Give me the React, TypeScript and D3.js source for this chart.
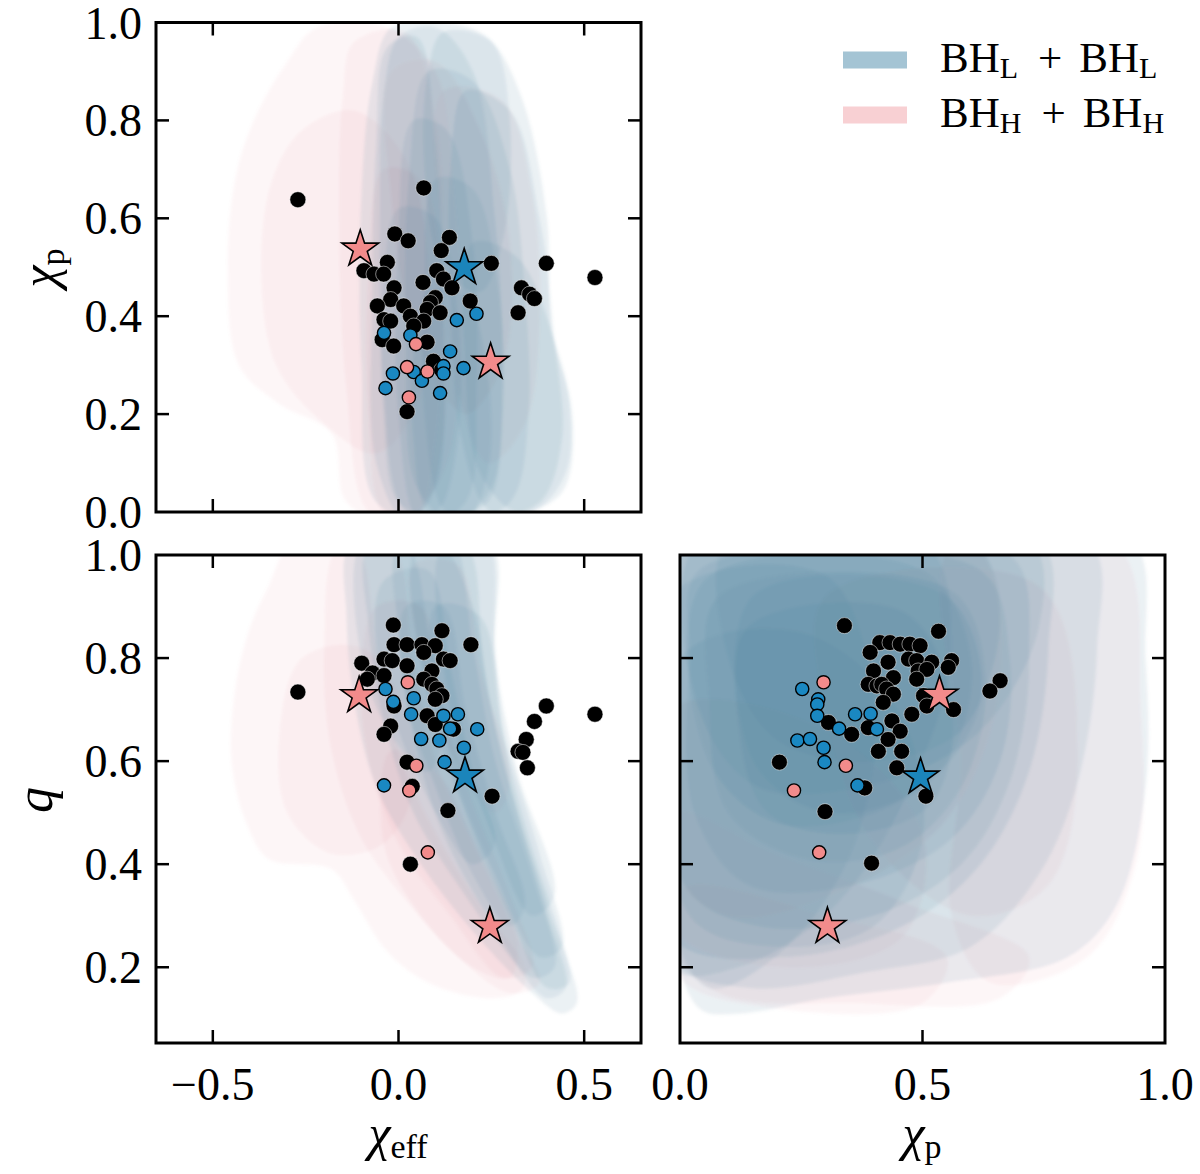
import * as d3 from "d3"

type Pt = [number, number]

// ---------- axis ticks ----------
const chiEffTicks = [-0.5, 0.0, 0.5]
const chiPTicks = [0.0, 0.2, 0.4, 0.6, 0.8, 1.0]
const qTicks = [0.2, 0.4, 0.6, 0.8, 1.0]
const chiPBottomTicks = [0.0, 0.5, 1.0]

// ---------- events: chi_eff vs chi_p ----------
const blackEffP: Pt[] = [
  [-0.271, 0.638], [0.068, 0.662], [-0.01, 0.568], [0.026, 0.554], [0.137, 0.561], [0.115, 0.534],
  [0.25, 0.508], [0.398, 0.508], [0.529, 0.479], [-0.03, 0.51], [-0.093, 0.493], [-0.066, 0.486],
  [-0.04, 0.486], [0.103, 0.493], [0.066, 0.469], [0.121, 0.476], [0.144, 0.458], [-0.012, 0.458],
  [0.331, 0.458], [0.353, 0.445], [0.366, 0.436], [0.322, 0.407], [-0.021, 0.434], [0.099, 0.438],
  [0.086, 0.428], [0.193, 0.431], [-0.057, 0.421], [0.014, 0.421], [0.077, 0.414], [0.112, 0.407],
  [0.032, 0.4], [0.068, 0.39], [0.041, 0.38], [-0.039, 0.393], [-0.021, 0.39], [-0.044, 0.352],
  [-0.013, 0.339], [0.077, 0.347], [0.094, 0.308], [0.116, 0.29], [0.023, 0.205],
]
const blueEffP: Pt[] = [
  [-0.039, 0.366], [0.032, 0.361], [0.157, 0.392], [0.21, 0.405], [0.139, 0.328], [0.121, 0.298],
  [0.121, 0.283], [0.175, 0.294], [-0.015, 0.283], [0.041, 0.286], [0.063, 0.268], [-0.035, 0.253],
  [0.112, 0.243],
]
const pinkEffP: Pt[] = [[0.047, 0.343], [0.023, 0.296], [0.078, 0.287], [0.028, 0.234]]
const starsEffP: [number, number, string][] = [[-0.103, 0.537, "H"], [0.177, 0.499, "L"], [0.248, 0.306, "H"]]

// ---------- events: chi_eff vs q ----------
const blackEffQ: Pt[] = [
  [-0.014, 0.864], [0.117, 0.853], [0.195, 0.826], [-0.012, 0.826], [0.023, 0.826], [0.063, 0.826],
  [0.099, 0.824], [0.068, 0.811], [-0.039, 0.798], [-0.017, 0.795], [-0.099, 0.79], [0.023, 0.785],
  [0.121, 0.798], [0.139, 0.795], [0.09, 0.775], [-0.07, 0.771], [-0.039, 0.766], [0.068, 0.759],
  [0.09, 0.749], [0.103, 0.74], [0.117, 0.727], [0.099, 0.72], [-0.084, 0.759], [-0.271, 0.734],
  [-0.012, 0.707], [-0.021, 0.668], [-0.039, 0.652], [0.077, 0.688], [0.099, 0.671], [0.148, 0.662],
  [0.398, 0.707], [0.529, 0.691], [0.366, 0.677], [0.344, 0.642], [0.322, 0.619], [0.335, 0.617],
  [0.347, 0.587], [0.023, 0.598], [0.037, 0.551], [0.252, 0.532], [0.133, 0.504], [0.032, 0.4],
]
const blueEffQ: Pt[] = [
  [-0.035, 0.74], [-0.014, 0.715], [0.041, 0.722], [0.034, 0.691], [0.121, 0.688], [0.16, 0.691],
  [0.139, 0.663], [0.212, 0.662], [0.061, 0.643], [0.11, 0.64], [0.176, 0.626], [0.124, 0.598],
  [-0.039, 0.553],
]
const pinkEffQ: Pt[] = [[0.025, 0.753], [0.048, 0.591], [0.029, 0.543], [0.079, 0.423]]
const starsEffQ: [number, number, string][] = [[-0.106, 0.727, "H"], [0.179, 0.571, "L"], [0.246, 0.279, "H"]]

// ---------- events: chi_p vs q ----------
const blackPQ: Pt[] = [
  [0.339, 0.863], [0.533, 0.852], [0.412, 0.83], [0.433, 0.83], [0.454, 0.827], [0.474, 0.827],
  [0.495, 0.824], [0.392, 0.811], [0.429, 0.792], [0.471, 0.798], [0.488, 0.795], [0.519, 0.792],
  [0.56, 0.795], [0.553, 0.782], [0.399, 0.775], [0.491, 0.775], [0.509, 0.778], [0.44, 0.762],
  [0.488, 0.759], [0.388, 0.749], [0.406, 0.746], [0.416, 0.749], [0.426, 0.74], [0.44, 0.73],
  [0.502, 0.727], [0.66, 0.756], [0.639, 0.736], [0.564, 0.7], [0.509, 0.707], [0.419, 0.714],
  [0.478, 0.691], [0.306, 0.675], [0.354, 0.652], [0.388, 0.665], [0.437, 0.678], [0.454, 0.658],
  [0.429, 0.642], [0.409, 0.619], [0.457, 0.619], [0.447, 0.587], [0.205, 0.598], [0.381, 0.548],
  [0.507, 0.532], [0.299, 0.502], [0.395, 0.402],
]
const bluePQ: Pt[] = [
  [0.252, 0.74], [0.285, 0.72], [0.283, 0.71], [0.283, 0.688], [0.361, 0.691], [0.393, 0.692],
  [0.328, 0.663], [0.406, 0.662], [0.242, 0.64], [0.268, 0.643], [0.296, 0.626], [0.298, 0.598],
  [0.366, 0.553],
]
const pinkPQ: Pt[] = [[0.296, 0.753], [0.342, 0.591], [0.235, 0.543], [0.287, 0.423]]
const starsPQ: [number, number, string][] = [[0.535, 0.728, "H"], [0.496, 0.569, "L"], [0.304, 0.279, "H"]]

// ---------- credible-region outlines (chi_eff, chi_p) ----------
const blueRegionsEffP: Pt[][] = [
  [[-0.02, 0.99], [0.12, 1.0], [0.24, 0.97], [0.33, 0.85], [0.4, 0.6], [0.41, 0.38], [0.46, 0.22], [0.45, 0.08], [0.36, 0.0], [0.1, -0.02], [-0.06, 0.02], [-0.1, 0.3], [-0.1, 0.65], [-0.07, 0.88]],
  [[0.0, 0.97], [0.1, 0.99], [0.2, 0.9], [0.26, 0.6], [0.28, 0.3], [0.25, 0.05], [0.15, -0.02], [0.02, 0.0], [-0.04, 0.25], [-0.05, 0.6], [-0.04, 0.85]],
  [[0.08, 0.9], [0.2, 0.88], [0.3, 0.7], [0.34, 0.45], [0.35, 0.2], [0.3, 0.02], [0.15, -0.02], [0.05, 0.05], [0.02, 0.35], [0.03, 0.7]],
  [[0.04, 0.8], [0.13, 0.78], [0.2, 0.55], [0.21, 0.25], [0.18, 0.02], [0.06, -0.02], [0.0, 0.2], [0.0, 0.55]],
  [[0.18, 0.86], [0.3, 0.82], [0.38, 0.6], [0.42, 0.35], [0.44, 0.15], [0.38, 0.02], [0.25, 0.0], [0.17, 0.15], [0.14, 0.45], [0.14, 0.7]],
  [[-0.03, 0.95], [0.05, 0.97], [0.1, 0.75], [0.12, 0.4], [0.1, 0.05], [0.02, -0.02], [-0.06, 0.1], [-0.07, 0.45], [-0.06, 0.75]],
  [[0.1, 0.68], [0.2, 0.66], [0.27, 0.45], [0.28, 0.2], [0.24, 0.02], [0.13, 0.0], [0.07, 0.2], [0.07, 0.45]],
  [[0.2, 0.55], [0.32, 0.52], [0.42, 0.35], [0.47, 0.18], [0.44, 0.04], [0.32, 0.0], [0.22, 0.08], [0.18, 0.3]],
  [[0.12, 0.98], [0.25, 0.96], [0.3, 0.8], [0.28, 0.55], [0.22, 0.45], [0.12, 0.5], [0.07, 0.7], [0.08, 0.9]],
  [[0.0, 0.62], [0.1, 0.6], [0.16, 0.4], [0.16, 0.15], [0.1, 0.0], [0.0, 0.02], [-0.04, 0.2], [-0.04, 0.45]],
  [[0.08, 0.45], [0.18, 0.44], [0.24, 0.28], [0.24, 0.08], [0.18, -0.02], [0.08, 0.0], [0.04, 0.15], [0.04, 0.32]],
]
const redRegionsEffP: Pt[][] = [
  [[-0.22, 0.99], [-0.03, 0.99], [0.1, 0.9], [0.15, 0.65], [0.17, 0.35], [0.12, 0.08], [0.0, -0.02], [-0.14, 0.02], [-0.18, 0.16], [-0.32, 0.22], [-0.43, 0.3], [-0.46, 0.5], [-0.44, 0.68], [-0.39, 0.8], [-0.3, 0.92]],
  [[-0.12, 0.96], [0.02, 0.98], [0.1, 0.8], [0.12, 0.5], [0.1, 0.15], [0.04, -0.02], [-0.08, 0.0], [-0.14, 0.25], [-0.16, 0.6], [-0.15, 0.85]],
  [[-0.26, 0.78], [-0.12, 0.82], [0.02, 0.72], [0.08, 0.5], [0.05, 0.22], [-0.06, 0.12], [-0.2, 0.18], [-0.33, 0.3], [-0.37, 0.5], [-0.34, 0.68]],
  [[0.12, 0.86], [0.28, 0.84], [0.36, 0.65], [0.38, 0.4], [0.34, 0.18], [0.24, 0.1], [0.16, 0.25], [0.12, 0.55]],
  [[-0.04, 0.7], [0.06, 0.68], [0.12, 0.45], [0.12, 0.15], [0.06, 0.0], [-0.04, 0.0], [-0.08, 0.2], [-0.08, 0.5]],
  [[-0.02, 0.9], [0.1, 0.92], [0.22, 0.78], [0.3, 0.55], [0.28, 0.3], [0.18, 0.2], [0.05, 0.35], [-0.02, 0.65]],
]

// ---------- credible-region outlines (chi_eff, q) ----------
const blueRegionsEffQ: Pt[][] = [
  [[-0.13, 1.02], [0.05, 1.03], [0.25, 1.02], [0.26, 0.82], [0.29, 0.62], [0.36, 0.43], [0.45, 0.23], [0.48, 0.13], [0.44, 0.11], [0.36, 0.15], [0.2, 0.27], [0.06, 0.4], [-0.06, 0.55], [-0.12, 0.72], [-0.14, 0.88]],
  [[-0.08, 1.02], [0.1, 1.03], [0.2, 0.9], [0.25, 0.7], [0.32, 0.5], [0.4, 0.3], [0.45, 0.16], [0.4, 0.14], [0.3, 0.22], [0.16, 0.36], [0.04, 0.5], [-0.04, 0.68], [-0.08, 0.86]],
  [[0.0, 1.02], [0.14, 1.03], [0.2, 0.82], [0.26, 0.6], [0.36, 0.38], [0.42, 0.2], [0.36, 0.18], [0.24, 0.3], [0.12, 0.46], [0.04, 0.65], [0.0, 0.85]],
  [[0.05, 1.02], [0.18, 1.02], [0.23, 0.78], [0.3, 0.55], [0.4, 0.32], [0.46, 0.17], [0.4, 0.16], [0.3, 0.3], [0.18, 0.5], [0.08, 0.72]],
  [[-0.04, 0.95], [0.08, 0.97], [0.14, 0.78], [0.2, 0.58], [0.26, 0.44], [0.2, 0.4], [0.1, 0.5], [0.0, 0.66], [-0.06, 0.82]],
  [[0.1, 0.9], [0.22, 0.88], [0.28, 0.66], [0.38, 0.42], [0.44, 0.24], [0.38, 0.22], [0.26, 0.38], [0.14, 0.6]],
  [[-0.1, 1.02], [0.02, 1.02], [0.08, 0.85], [0.12, 0.65], [0.08, 0.58], [-0.02, 0.65], [-0.1, 0.8]],
  [[0.02, 0.9], [0.12, 0.9], [0.18, 0.7], [0.26, 0.5], [0.34, 0.32], [0.3, 0.28], [0.2, 0.38], [0.1, 0.55], [0.02, 0.72]],
  [[0.12, 1.02], [0.24, 1.02], [0.26, 0.8], [0.32, 0.58], [0.42, 0.34], [0.36, 0.3], [0.24, 0.48], [0.14, 0.7]],
]
const redRegionsEffQ: Pt[][] = [
  [[-0.29, 1.02], [-0.12, 1.02], [-0.06, 0.82], [0.0, 0.62], [0.1, 0.46], [0.22, 0.32], [0.34, 0.2], [0.33, 0.155], [0.24, 0.14], [0.08, 0.17], [-0.03, 0.23], [-0.12, 0.33], [-0.18, 0.39], [-0.35, 0.41], [-0.41, 0.48], [-0.45, 0.6], [-0.44, 0.74], [-0.4, 0.86], [-0.35, 0.94]],
  [[-0.16, 1.02], [-0.02, 1.02], [0.04, 0.8], [0.1, 0.6], [0.2, 0.44], [0.32, 0.26], [0.38, 0.17], [0.3, 0.15], [0.16, 0.22], [0.02, 0.33], [-0.1, 0.45], [-0.18, 0.62], [-0.2, 0.82]],
  [[-0.06, 0.9], [0.06, 0.9], [0.12, 0.7], [0.2, 0.52], [0.3, 0.34], [0.36, 0.2], [0.28, 0.18], [0.14, 0.3], [0.0, 0.44], [-0.08, 0.6], [-0.1, 0.76]],
  [[-0.26, 0.8], [-0.1, 0.82], [0.02, 0.7], [0.04, 0.54], [-0.04, 0.44], [-0.18, 0.42], [-0.3, 0.5], [-0.32, 0.66]],
  [[-0.02, 0.62], [0.1, 0.58], [0.22, 0.42], [0.32, 0.26], [0.3, 0.18], [0.2, 0.2], [0.06, 0.3], [-0.04, 0.44]],
  [[0.04, 0.98], [0.16, 0.98], [0.22, 0.78], [0.3, 0.56], [0.26, 0.5], [0.14, 0.62], [0.06, 0.8]],
]

// ---------- credible-region outlines (chi_p, q) ----------
const blueRegionsPQ: Pt[][] = [
  [[-0.02, 1.03], [0.5, 1.03], [0.93, 1.03], [0.96, 0.8], [0.96, 0.55], [0.9, 0.32], [0.8, 0.22], [0.55, 0.17], [0.3, 0.14], [0.12, 0.11], [0.04, 0.12], [-0.02, 0.3]],
  [[-0.02, 1.03], [0.84, 1.03], [0.86, 0.82], [0.82, 0.56], [0.74, 0.38], [0.6, 0.24], [0.38, 0.19], [0.14, 0.16], [-0.02, 0.22]],
  [[-0.02, 1.03], [0.74, 1.03], [0.76, 0.82], [0.72, 0.58], [0.62, 0.4], [0.46, 0.28], [0.22, 0.22], [-0.02, 0.26]],
  [[0.0, 1.0], [0.68, 1.0], [0.72, 0.8], [0.68, 0.56], [0.58, 0.4], [0.4, 0.3], [0.16, 0.28], [0.01, 0.36]],
  [[0.04, 0.97], [0.62, 0.97], [0.68, 0.8], [0.66, 0.6], [0.56, 0.45], [0.36, 0.36], [0.14, 0.36], [0.03, 0.5], [0.02, 0.8]],
  [[0.08, 0.92], [0.56, 0.93], [0.63, 0.76], [0.58, 0.55], [0.45, 0.43], [0.26, 0.41], [0.1, 0.5], [0.06, 0.72]],
  [[-0.02, 1.03], [0.5, 1.03], [0.56, 0.82], [0.48, 0.56], [0.32, 0.32], [0.12, 0.2], [-0.02, 0.2]],
  [[0.14, 0.86], [0.46, 0.89], [0.56, 0.72], [0.52, 0.52], [0.36, 0.46], [0.18, 0.5], [0.12, 0.68]],
  [[-0.02, 0.92], [0.3, 0.96], [0.4, 0.72], [0.36, 0.44], [0.22, 0.24], [0.06, 0.16], [-0.02, 0.3]],
  [[0.04, 1.03], [0.72, 1.03], [0.74, 0.86], [0.62, 0.66], [0.42, 0.56], [0.16, 0.55], [0.04, 0.7]],
  [[0.0, 0.8], [0.25, 0.85], [0.45, 0.7], [0.5, 0.45], [0.4, 0.28], [0.2, 0.24], [0.02, 0.3]],
  [[0.1, 1.03], [0.6, 1.03], [0.66, 0.88], [0.58, 0.66], [0.4, 0.6], [0.2, 0.64], [0.1, 0.8]],
  [[0.05, 0.95], [0.5, 0.97], [0.6, 0.8], [0.55, 0.6], [0.4, 0.5], [0.2, 0.48], [0.06, 0.6]],
  [[0.15, 0.92], [0.55, 0.92], [0.62, 0.72], [0.5, 0.55], [0.3, 0.5], [0.15, 0.6]],
]
const redRegionsPQ: Pt[][] = [
  [[0.56, 1.02], [0.9, 1.02], [0.95, 0.7], [0.94, 0.4], [0.84, 0.22], [0.64, 0.17], [0.56, 0.3], [0.58, 0.6]],
  [[-0.02, 0.5], [0.2, 0.42], [0.48, 0.32], [0.72, 0.22], [0.66, 0.14], [0.36, 0.13], [0.08, 0.15], [-0.02, 0.25]],
  [[-0.02, 1.03], [0.6, 1.03], [0.66, 0.76], [0.56, 0.5], [0.36, 0.36], [0.1, 0.3], [-0.02, 0.4]],
  [[0.3, 0.92], [0.74, 0.94], [0.82, 0.62], [0.76, 0.36], [0.6, 0.3], [0.4, 0.44], [0.3, 0.7]],
  [[-0.02, 0.7], [0.3, 0.66], [0.5, 0.46], [0.46, 0.26], [0.22, 0.2], [-0.02, 0.28]],
  [[0.0, 0.35], [0.3, 0.3], [0.55, 0.22], [0.5, 0.13], [0.2, 0.12], [0.0, 0.18]],
]

// ---------- style ----------
const FONT = "'Liberation Serif', 'DejaVu Serif', serif"
const BLUE_FILL = "#4a7d9b"
const RED_FILL = "#e58a90"
const BLUE_DOT = "#1a88c2"
const PINK_DOT = "#f28b8b"
const BLUE_STAR = "#1b85bb"
const TICK = 13
const fmt = d3.format(".1f")

const xEff = d3.scaleLinear().domain([-0.653, 0.653]).range([156, 641])
const yChiP = d3.scaleLinear().domain([0, 1]).range([512, 22.5])
const yQ = d3.scaleLinear().domain([0.053, 1]).range([1043, 555])
const xChiP = d3.scaleLinear().domain([0, 1]).range([680, 1165])

const starPath = d3.symbol(d3.symbolStar, 420)() as string

interface PanelProps {
  id: string
  x: d3.ScaleLinear<number, number>
  y: d3.ScaleLinear<number, number>
  xTicks: number[]
  yTicks: number[]
  blue: Pt[][]
  red: Pt[][]
  black: Pt[]
  blueDots: Pt[]
  pinkDots: Pt[]
  stars: [number, number, string][]
}

function Panel({ id, x, y, xTicks, yTicks, blue, red, black, blueDots, pinkDots, stars }: PanelProps) {
  const [x0, x1] = x.range()
  const [y1, y0] = y.range()
  const line = d3
    .line<Pt>()
    .x((d) => x(d[0]))
    .y((d) => y(d[1]))
    .curve(d3.curveCatmullRomClosed.alpha(0.5))

  return (
    <g>
      <defs>
        <clipPath id={id}>
          <rect x={x0} y={y0} width={x1 - x0} height={y1 - y0} />
        </clipPath>
      </defs>
      <g clipPath={`url(#${id})`}>
        <g filter="url(#soft)">
          {red.map((r, i) => (
            <path key={"r" + i} d={line(r) as string} fill={RED_FILL} fillOpacity={0.075} />
          ))}
          {blue.map((b, i) => (
            <path key={"b" + i} d={line(b) as string} fill={BLUE_FILL} fillOpacity={0.11} />
          ))}
        </g>
      </g>
      {black.map((d, i) => (
        <circle key={"k" + i} cx={x(d[0])} cy={y(d[1])} r={8} fill="#000" stroke="#fff" strokeWidth={0.5} />
      ))}
      {blueDots.map((d, i) => (
        <circle key={"bd" + i} cx={x(d[0])} cy={y(d[1])} r={6.6} fill={BLUE_DOT} stroke="#000" strokeWidth={1.4} />
      ))}
      {pinkDots.map((d, i) => (
        <circle key={"pd" + i} cx={x(d[0])} cy={y(d[1])} r={6.6} fill={PINK_DOT} stroke="#000" strokeWidth={1.4} />
      ))}
      {stars.map((d, i) => (
        <path
          key={"s" + i}
          d={starPath}
          transform={`translate(${x(d[0])},${y(d[1])})`}
          fill={d[2] === "L" ? BLUE_STAR : PINK_DOT}
          stroke="#000"
          strokeWidth={1.6}
        />
      ))}
      {/* inward ticks on all four sides */}
      {xTicks.map((t) => (
        <g key={"xt" + t} stroke="#000" strokeWidth={2.5}>
          <line x1={x(t)} x2={x(t)} y1={y1} y2={y1 - TICK} />
          <line x1={x(t)} x2={x(t)} y1={y0} y2={y0 + TICK} />
        </g>
      ))}
      {yTicks.map((t) => (
        <g key={"yt" + t} stroke="#000" strokeWidth={2.5}>
          <line x1={x0} x2={x0 + TICK} y1={y(t)} y2={y(t)} />
          <line x1={x1} x2={x1 - TICK} y1={y(t)} y2={y(t)} />
        </g>
      ))}
      <rect x={x0} y={y0} width={x1 - x0} height={y1 - y0} fill="none" stroke="#000" strokeWidth={3} />
    </g>
  )
}

export default function App() {
  return (
    <svg
      width={1200}
      height={1174}
      style={{ position: "absolute", left: 0, top: 0, background: "#fff" }}
      fontFamily={FONT}
    >
      <defs>
        <filter id="soft" x="-5%" y="-5%" width="110%" height="110%">
          <feGaussianBlur stdDeviation={1.6} />
        </filter>
      </defs>
      <Panel
        id="clipA"
        x={xEff}
        y={yChiP}
        xTicks={chiEffTicks}
        yTicks={[0.2, 0.4, 0.6, 0.8]}
        blue={blueRegionsEffP}
        red={redRegionsEffP}
        black={blackEffP}
        blueDots={blueEffP}
        pinkDots={pinkEffP}
        stars={starsEffP}
      />
      <Panel
        id="clipB"
        x={xEff}
        y={yQ}
        xTicks={chiEffTicks}
        yTicks={[0.2, 0.4, 0.6, 0.8]}
        blue={blueRegionsEffQ}
        red={redRegionsEffQ}
        black={blackEffQ}
        blueDots={blueEffQ}
        pinkDots={pinkEffQ}
        stars={starsEffQ}
      />
      <Panel
        id="clipC"
        x={xChiP}
        y={yQ}
        xTicks={[0.5]}
        yTicks={[0.2, 0.4, 0.6, 0.8]}
        blue={blueRegionsPQ}
        red={redRegionsPQ}
        black={blackPQ}
        blueDots={bluePQ}
        pinkDots={pinkPQ}
        stars={starsPQ}
      />

      {/* tick labels */}
      <g fontSize={46} fill="#000">
        {chiPTicks.map((t) => (
          <text key={"lp" + t} x={142} y={yChiP(t) + 16} textAnchor="end">
            {fmt(t)}
          </text>
        ))}
        {qTicks.map((t) => (
          <text key={"lq" + t} x={142} y={yQ(t) + 16} textAnchor="end">
            {fmt(t)}
          </text>
        ))}
        {chiEffTicks.map((t) => (
          <text key={"le" + t} x={xEff(t)} y={1100} textAnchor="middle">
            {fmt(t)}
          </text>
        ))}
        {chiPBottomTicks.map((t) => (
          <text key={"lc" + t} x={xChiP(t)} y={1100} textAnchor="middle">
            {fmt(t)}
          </text>
        ))}
      </g>

      {/* axis labels */}
      <text x={398} y={1150} textAnchor="middle">
        <tspan fontStyle="italic" fontSize={50}>χ</tspan>
        <tspan fontSize={34} dy={8}>eff</tspan>
      </text>
      <text x={922} y={1150} textAnchor="middle">
        <tspan fontStyle="italic" fontSize={50}>χ</tspan>
        <tspan fontSize={34} dy={8}>p</tspan>
      </text>
      <text transform="translate(56,268) rotate(-90)" textAnchor="middle">
        <tspan fontStyle="italic" fontSize={50}>χ</tspan>
        <tspan fontSize={34} dy={8}>p</tspan>
      </text>
      <text transform="translate(52,800) rotate(-90)" textAnchor="middle" fontStyle="italic" fontSize={52}>
        q
      </text>

      {/* legend */}
      <rect x={843} y={51.5} width={64} height={17} fill="#a4c4d4" />
      <rect x={843} y={106.5} width={64} height={17} fill="#f8d0d3" />
      <text x={940} y={72} fontSize={43}>
        <tspan>BH</tspan>
        <tspan fontSize={30} dy={6}>L</tspan>
        <tspan dx={20} dy={-6}>+</tspan>
        <tspan dx={17}>BH</tspan>
        <tspan fontSize={30} dy={6}>L</tspan>
      </text>
      <text x={940} y={127} fontSize={43}>
        <tspan>BH</tspan>
        <tspan fontSize={30} dy={6}>H</tspan>
        <tspan dx={20} dy={-6}>+</tspan>
        <tspan dx={17}>BH</tspan>
        <tspan fontSize={30} dy={6}>H</tspan>
      </text>
    </svg>
  )
}
